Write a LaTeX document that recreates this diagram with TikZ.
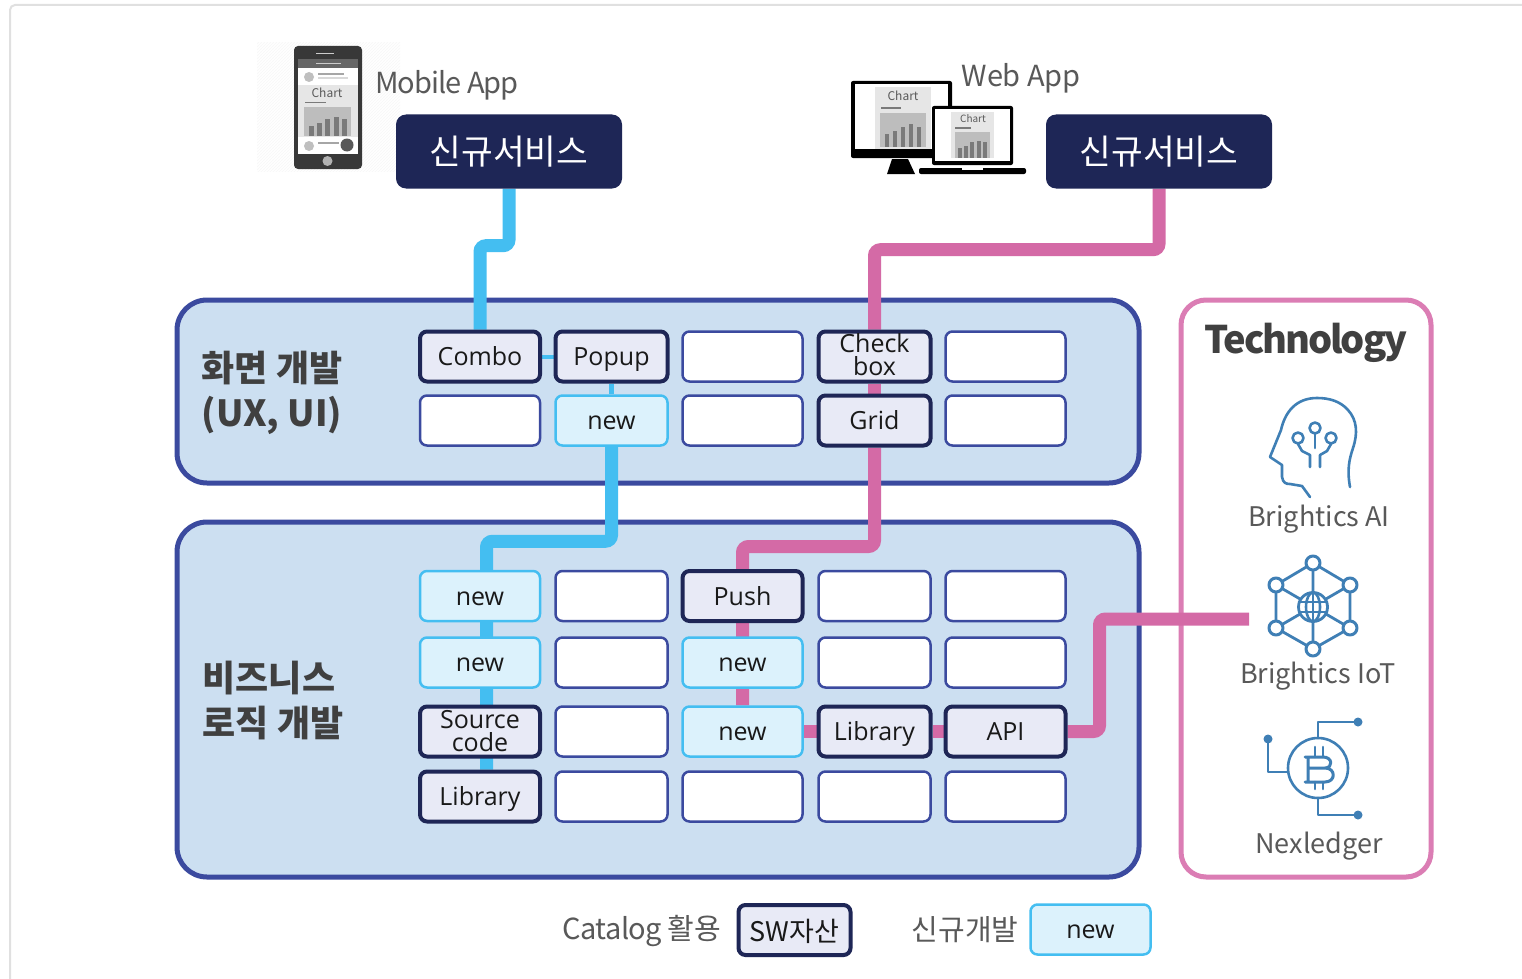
\documentclass[tikz,border=0pt]{standalone}
\usepackage{fontspec}
\setmainfont{Noto Sans CJK KR}
\newfontfamily\boxfont{Open Sans}
\usepackage{tikz}
\usetikzlibrary{positioning, backgrounds, patterns}
\definecolor{panelblue}{HTML}{CCDFF1}
\definecolor{paneledge}{HTML}{3B4A9F}
\definecolor{navy}{HTML}{1E2656}
\definecolor{wireblue}{HTML}{44BEF1}
\definecolor{wirepink}{HTML}{D46AA6}
\definecolor{framepink}{HTML}{DB7DB4}
\definecolor{assetfill}{HTML}{E8EAF6}
\definecolor{newfill}{HTML}{DCF2FC}
\definecolor{labelgray}{HTML}{595959}
\definecolor{headgray}{HTML}{404040}
\definecolor{iconblue}{HTML}{3F7FB5}
\definecolor{chartbg}{HTML}{BDBDBD}
\definecolor{chartpanel}{HTML}{E6E6E6}
\definecolor{chartbar}{HTML}{7A7A7A}
\tikzset{
	cell/.style={rounded corners=7pt, align=center, inner sep=0pt, minimum height=50pt, text=black!90,
		font=\boxfont\fontsize{25}{23}\selectfont, text height=18pt, text depth=0pt},
	twoline/.style={text height=, text depth=#1},
	wide/.style={minimum width=120pt},
	narrow/.style={minimum width=112pt},
	blank/.style={cell, draw=paneledge, fill=white, line width=2.5pt},
	asset/.style={cell, draw=navy, fill=assetfill, line width=4pt},
	fresh/.style={cell, draw=wireblue, fill=newfill, line width=2.5pt},
	panel/.style={draw=paneledge, fill=panelblue, line width=5pt, rounded corners=30pt},
	bluewire/.style={draw=wireblue, line width=13pt, rounded corners=6pt},
	pinkwire/.style={draw=wirepink, line width=13pt, rounded corners=6pt},
	service/.style={fill=navy, rounded corners=10pt, minimum width=226pt, minimum height=74pt, inner sep=0pt,
		text=white, font=\fontsize{34.5}{40}\selectfont},
	caption/.style={inner sep=0pt, text=labelgray, font=\fontsize{29}{34}\selectfont},
	techname/.style={inner sep=0pt, text=labelgray, font=\fontsize{27}{32}\selectfont},
	heading/.style={inner sep=0pt, align=left, text=headgray, font=\bfseries\fontsize{36}{45}\selectfont},
	icon/.style={draw=iconblue, line width=2.6pt, line cap=round, line join=round},
	chartname/.style={inner sep=0pt, text=labelgray}
}

\begin{document}
\begin{tikzpicture}[x=1pt, y=-1pt]
			\useasboundingbox (0,0) rectangle (1522,979);

			% screen cells
			\node[asset, wide] (s11) at (480,356.5) {Combo};
			\node[asset, narrow] (s12) at (611.5,356.5) {Popup};
			\node[blank, wide] (s13) at (742.5,356.5) {};
			\node[asset, narrow, twoline=5pt] (s14) at (874.5,356.5) {Check\\box};
			\node[blank, wide] (s15) at (1005.5,356.5) {};
			\node[blank, wide] (s21) at (480,420.5) {};
			\node[fresh, narrow] (s22) at (611.5,420.5) {new};
			\node[blank, wide] (s23) at (742.5,420.5) {};
			\node[asset, narrow] (s24) at (874.5,420.5) {Grid};
			\node[blank, wide] (s25) at (1005.5,420.5) {};

			% logic cells
			\node[fresh, wide] (b11) at (480,596) {new};
			\node[blank, narrow] (b12) at (611.5,596) {};
			\node[asset, wide] (b13) at (742.5,596) {Push};
			\node[blank, narrow] (b14) at (874.5,596) {};
			\node[blank, wide] (b15) at (1005.5,596) {};
			\node[fresh, wide] (b21) at (480,662.5) {new};
			\node[blank, narrow] (b22) at (611.5,662.5) {};
			\node[fresh, wide] (b23) at (742.5,662.5) {new};
			\node[blank, narrow] (b24) at (874.5,662.5) {};
			\node[blank, wide] (b25) at (1005.5,662.5) {};
			\node[asset, wide, twoline=2pt] (b31) at (480,731.5) {Source\\code};
			\node[blank, narrow] (b32) at (611.5,731.5) {};
			\node[fresh, wide] (b33) at (742.5,731.5) {new};
			\node[asset, narrow] (b34) at (874.5,731.5) {Library};
			\node[asset, wide] (b35) at (1005.5,731.5) {API};
			\node[asset, wide] (b41) at (480,796.5) {Library};
			\node[blank, narrow] (b42) at (611.5,796.5) {};
			\node[blank, wide] (b43) at (742.5,796.5) {};
			\node[blank, narrow] (b44) at (874.5,796.5) {};
			\node[blank, wide] (b45) at (1005.5,796.5) {};

			% services and texts
			\node[service] (mobile) at (509,151.5) {신규서비스};
			\node[service] (web) at (1159,151.5) {신규서비스};
			\node[caption] (mobilename) at (447,85) {\addfontfeature{LetterSpace=-3.4}Mobile App};
			\node[caption] (webname) at (1021,78) {\addfontfeature{LetterSpace=-1}Web App};
			\node[heading] (screenname) at (272,393) {화면 개발\\(UX, UI)};
			\node[heading] (logicname) at (273,700) {비즈니스\\로직 개발};
			\node[inner sep=0pt, text=headgray, font=\bfseries\fontsize{38}{44}\selectfont] (techtitle) at (1306,343) {\addfontfeature{LetterSpace=-5.5}Technology};
			\node[techname] (ainame) at (1319,519) {Brightics AI};
			\node[techname] (iotname) at (1318,676) {Brightics IoT};
			\node[techname] (ledgername) at (1319,846) {Nexledger};
			\coordinate (iotport) at (1249,619);

			% legend
			\node[caption] (catalogname) at (641.5,931) {\addfontfeature{LetterSpace=-2}Catalog 활용};
			\node[asset, narrow, font=\fontsize{27}{32}\selectfont, twoline=0pt] (assetkey) at (794.5,930) {SW자산};
			\node[caption] (newname) at (965,930) {신규개발};
			\node[fresh, wide] (newkey) at (1090.5,929.5) {new};

			% panels and wires stay under the cells
			\begin{scope}[on background layer]
				\fill[white] (0,0) rectangle (1522,979);
				\draw[black!12, line width=2pt, rounded corners=5pt] (10,979) -- (10,5) -- (1522,5);
				\fill[pattern=north east lines, pattern color=black!3] (257,43) rectangle (400,171);
				\draw[panel] (177,300) rectangle (1139,483);
				\draw[panel] (177,522) rectangle (1139,877);
				\draw[draw=framepink, fill=white, line width=5pt, rounded corners=25pt] (1181,300) rectangle (1431,877);
				\draw[bluewire] (mobile.south) -- ++(0,57) -| (s11.north);
				\draw[wireblue, line width=4pt] (s11) -- (s12);
				\draw[wireblue, line width=5pt] (s12) -- (s22);
				\draw[bluewire] (s22.south) -- ++(0,94.5) -| ([xshift=6.5pt]b11.north) -- ([xshift=6.5pt]b41.north);
				\draw[pinkwire] (web.south) -- ++(0,61) -| (s14.north);
				\draw[wirepink, line width=13pt] (s14) -- (s24);
				\draw[pinkwire] (s24.south) -- ++(0,99) -| (b13.north) -- (b33.north);
				\draw[wirepink, line width=13pt] (b33) -- (b34) -- (b35);
				\draw[pinkwire] (b35.east) -- ++(32,0) |- (iotport);
			\end{scope}

			% phone
			\fill[black!78, rounded corners=4pt] (294,46) rectangle (362,169);
			\fill[black!60] (298,59) rectangle (358,68);
			\fill[white] (298,68) rectangle (358,154);
			\fill[black!20] (316,53) rectangle (334,54.5);
			\fill[black!20] (316,63) rectangle (341,64.5);
			\fill[chartpanel] (298,85) rectangle (358,137);
			\fill[chartbg] (304,107) rectangle (351,136);
			\foreach \x/\t in {309/126, 317/123, 325/119, 334/117, 342/119}
				\fill[chartbar] (\x,\t) rectangle (\x+4.5,136);
			\fill[chartbar] (305,102) rectangle (326,103.5);
			\fill[black!25] (309,77) circle (5);
			\fill[black!25] (309,146) circle (5);
			\fill[black!65] (347,145) circle (6.5);
			\fill[black!35] (318,73) rectangle (344,75);
			\fill[black!15] (318,77) rectangle (348,79);
			\fill[black!35] (318,142) rectangle (339,144);
			\fill[black!30] (327.5,161) circle (5);
			\node[chartname, font=\fontsize{12}{14}\selectfont] (phonechart) at (327,93) {Chart};

			% monitor and laptop
			\fill[black, rounded corners=2pt] (851,81) rectangle (952,158);
			\fill[white] (855,84.5) rectangle (948,149);
			\fill[chartpanel] (875,87) rectangle (931,149);
			\fill[chartbg] (880,113) rectangle (926,147);
			\foreach \x/\t in {885/134, 893/131, 901/127, 909/124, 917/127}
				\fill[chartbar] (\x,\t) rectangle (\x+4,147);
			\fill[chartbar] (881,107.5) rectangle (901,109);
			\fill[black] (892,159) -- (908,159) -- (915,174) -- (887,174) -- cycle;
			\node[chartname, font=\fontsize{12}{14}\selectfont] (monitorchart) at (903,96) {Chart};
			\fill[black, rounded corners=2pt] (932,106) rectangle (1013,165);
			\fill[white] (935,109) rectangle (1010,161);
			\fill[chartpanel] (951,112) rectangle (994,158);
			\fill[chartbg] (955,132) rectangle (990,158);
			\foreach \x/\t in {958/148, 964/146, 970/142, 977/141, 983/142}
				\fill[chartbar] (\x,\t) rectangle (\x+3.5,158);
			\fill[chartbar] (955,127.5) rectangle (971,129);
			\fill[black, rounded corners=2pt] (919,168) rectangle (1026,174);
			\fill[white] (962,168) rectangle (983,170);
			\node[chartname, font=\fontsize{10}{12}\selectfont] (laptopchart) at (973,119) {Chart};

			% head
			\draw[icon] (1350,487) .. controls (1347,470) and (1349,460) .. (1353,448)
				.. controls (1358,433) and (1357,420) .. (1348,410)
				.. controls (1340,401) and (1329,398) .. (1317,398)
				.. controls (1296,398) and (1285,412) .. (1281,430)
				-- (1270,457) -- (1282,465) -- (1282,477)
				.. controls (1283,483) and (1286,484) .. (1290,484)
				-- (1302,486) -- (1310,497);
			\draw[icon] (1315,434) -- (1315,448);
			\draw[icon] (1298,444) -- (1302,451) -- (1310,455) -- (1310,467);
			\draw[icon] (1331,444) -- (1327,451) -- (1320,455) -- (1320,467);
			\foreach \x/\y in {1315/428, 1298/438, 1331/438}
				\draw[icon] (\x,\y) circle (5.5);

			% network
			\draw[icon, line width=2.8pt] (1313,563) -- (1350,585) -- (1350,628) -- (1313,649) -- (1276,628) -- (1276,585) -- cycle;
			\draw[icon, line width=2.8pt] (1313,563) -- (1313,649) (1276,585) -- (1350,628) (1350,585) -- (1276,628);
			\draw[icon, line width=2.8pt, fill=white] (1313,607) circle (14.5);
			\draw[icon] (1313,607) ellipse (7 and 14.5);
			\draw[icon] (1313,592.5) -- (1313,621.5) (1299,602) -- (1327,602) (1299,612) -- (1327,612);
			\foreach \x/\y in {1313/563, 1350/585, 1350/628, 1313/649, 1276/628, 1276/585}
				\draw[icon, line width=3pt, fill=white] (\x,\y) circle (7);

			% ledger
			\draw[icon] (1318,768) circle (30);
			\draw[icon] (1318,738) -- (1318,722) -- (1358,722);
			\draw[icon] (1318,798) -- (1318,815) -- (1358,815);
			\draw[icon] (1288,772) -- (1268,772) -- (1268,739);
			\foreach \x/\y in {1358/722, 1358/815, 1268/739}
				\fill[iconblue] (\x,\y) circle (4.5);
			\draw[icon, line width=3pt] (1305,757) -- (1323,757)
				.. controls (1333,757) and (1333,768) .. (1325,768) -- (1308,768)
				(1325,768) .. controls (1336,768) and (1336,782) .. (1325,782) -- (1305,782)
				(1308,757) -- (1308,782);
			\draw[icon] (1315,747) -- (1315,757) (1323,747) -- (1323,757) (1315,782) -- (1315,789) (1323,782) -- (1323,789);
		\end{tikzpicture}
\end{document}
